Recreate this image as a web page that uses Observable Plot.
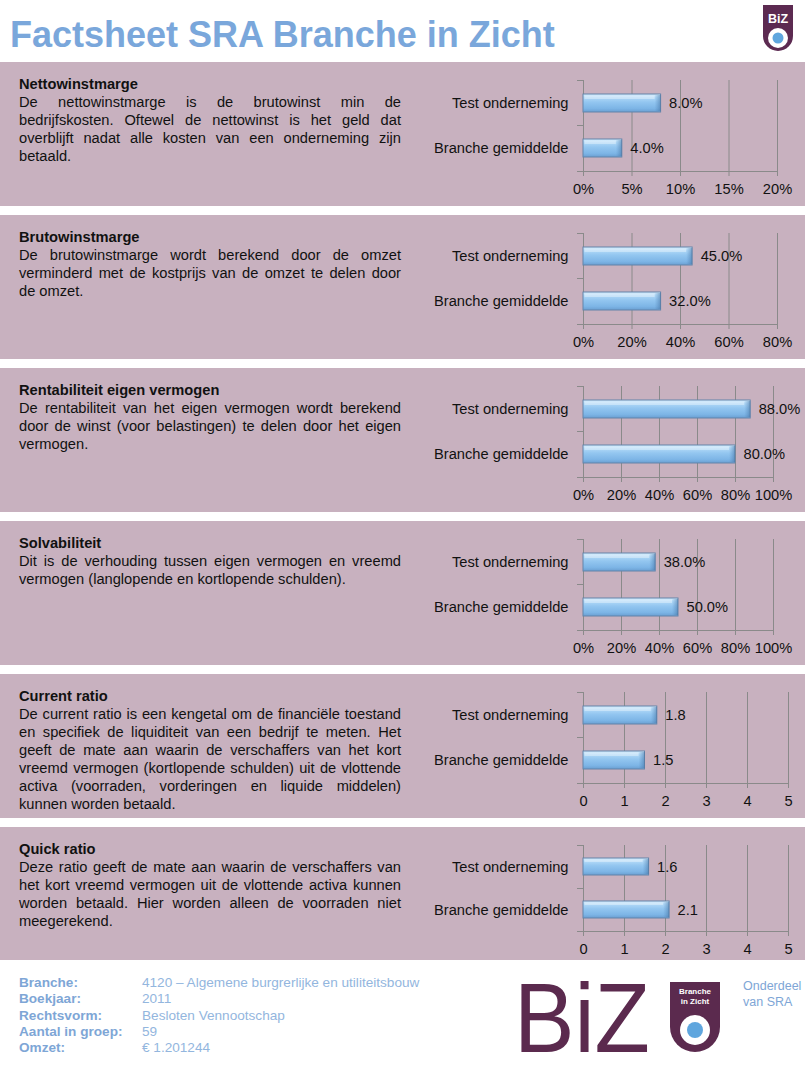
<!DOCTYPE html>
<html><head><meta charset="utf-8">
<script src="https://cdn.jsdelivr.net/npm/d3@7"></script>
<script src="https://cdn.jsdelivr.net/npm/@observablehq/plot@0.6"></script>
<style>
body{margin:0;background:#fff;font-family:"Liberation Sans",Arial,sans-serif;}
#page{position:relative;width:805px;height:1079px;overflow:hidden;background:#fff;}
.title{position:absolute;left:10px;top:14px;font-size:36px;font-weight:bold;color:#7aa7db;white-space:nowrap;line-height:42px;}
.panel{position:absolute;left:0;width:805px;background:#c8b1bf;}
.txt{position:absolute;left:19px;top:13px;width:382px;font-size:14.67px;line-height:18px;color:#111;text-align:justify;}
.txt b{display:block;text-align:left;}
.chart{position:absolute;left:420px;top:0;}
.foot{position:absolute;left:19px;top:975px;font-size:13.6px;line-height:16.3px;}
.foot .l{position:absolute;left:0;font-weight:bold;color:#7ea6d6;white-space:nowrap;}
.foot .v{position:absolute;left:123px;color:#93b6de;white-space:nowrap;letter-spacing:0px;}
.sra{position:absolute;left:743px;top:978px;font-size:12.5px;line-height:16.3px;color:#7ea6d6;white-space:nowrap;}
</style></head>
<body><div id="page"></div>
<script>
// ---------- data ----------
const categories = ["Test onderneming", "Branche gemiddelde"];
const panelTitles = ["Nettowinstmarge", "Brutowinstmarge", "Rentabiliteit eigen vermogen", "Solvabiliteit", "Current ratio", "Quick ratio"];
const panelTexts = [
  "De nettowinstmarge is de brutowinst min de bedrijfskosten. Oftewel de nettowinst is het geld dat overblijft nadat alle kosten van een onderneming zijn betaald.",
  "De brutowinstmarge wordt berekend door de omzet verminderd met de kostprijs van de omzet te delen door de omzet.",
  "De rentabiliteit van het eigen vermogen wordt berekend door de winst (voor belastingen) te delen door het eigen vermogen.",
  "Dit is de verhouding tussen eigen vermogen en vreemd vermogen (langlopende en kortlopende schulden).",
  "De current ratio is een kengetal om de financiële toestand en specifiek de liquiditeit van een bedrijf te meten. Het geeft de mate aan waarin de verschaffers van het kort vreemd vermogen (kortlopende schulden) uit de vlottende activa (voorraden, vorderingen en liquide middelen) kunnen worden betaald.",
  "Deze ratio geeft de mate aan waarin de verschaffers van het kort vreemd vermogen uit de vlottende activa kunnen worden betaald. Hier worden alleen de voorraden niet meegerekend."
];
const nettowinstmarge = [8.0, 4.0];
const brutowinstmarge = [45.0, 32.0];
const rentabiliteit = [88.0, 80.0];
const solvabiliteit = [38.0, 50.0];
const currentRatio = [1.8, 1.5];
const quickRatio = [1.6, 2.1];
const ticks20 = [0, 5, 10, 15, 20];
const ticks80 = [0, 20, 40, 60, 80];
const ticks100 = [0, 20, 40, 60, 80, 100];
const ticksRatio = [0, 1, 2, 3, 4, 5];
const footerLabels = ["Branche:", "Boekjaar:", "Rechtsvorm:", "Aantal in groep:", "Omzet:"];
const footerValues = ["4120 – Algemene burgrerlijke en utiliteitsbouw", "2011", "Besloten Vennootschap", "59", "€ 1.201244"];

// ---------- layout ----------
const panelTops = [62, 215, 368, 521, 674, 827];
const panelHeights = [144, 144, 144, 144, 144, 133];
const series = [nettowinstmarge, brutowinstmarge, rentabiliteit, solvabiliteit, currentRatio, quickRatio];
const tickSets = [ticks20, ticks80, ticks100, ticks100, ticksRatio, ticksRatio];
const isPct = [true, true, true, true, false, false];
const marginRights = [28, 28, 32, 32, 17, 17];
const marginBottoms = [35, 35, 35, 35, 35, 29];

const ns = "http://www.w3.org/2000/svg";
const page = document.getElementById("page");

const title = document.createElement("div");
title.className = "title";
title.textContent = "Factsheet SRA Branche in Zicht";
page.appendChild(title);

// small logo top right
page.insertAdjacentHTML("beforeend", `
<svg style="position:absolute;left:760px;top:3px" width="36" height="52" viewBox="0 0 36 52">
  <path d="M3,2 H33 V33 A15,15 0 0 1 3,33 Z" fill="#5c2a51"/>
  <text x="18" y="20" text-anchor="middle" font-family="Liberation Sans,Arial" font-weight="bold" font-size="12.5" fill="#fff">BiZ</text>
  <circle cx="18" cy="35" r="10" fill="#fff"/>
  <circle cx="18" cy="35" r="5.5" fill="#5fa6de"/>
</svg>`);

function gradDefs(id) {
  return () => {
    const defs = document.createElementNS(ns, "defs");
    defs.innerHTML = `<linearGradient id="${id}" x1="0" y1="0" x2="0" y2="1">
      <stop offset="0" stop-color="#d8eefd"/>
      <stop offset="0.18" stop-color="#b2d9f7"/>
      <stop offset="0.45" stop-color="#93c6f0"/>
      <stop offset="0.8" stop-color="#7db5e6"/>
      <stop offset="1" stop-color="#6a9fd2"/>
    </linearGradient>
    <linearGradient id="${id}r" x1="0" y1="0" x2="1" y2="0">
      <stop offset="0" stop-color="#4d7fb3" stop-opacity="0"/>
      <stop offset="1" stop-color="#3f6f9f" stop-opacity="0.55"/>
    </linearGradient>`;
    return defs;
  };
}

// axis lines and the tick marks between the categories
function frameLines(index, scales, values, dims) {
  const g = document.createElementNS(ns, "g");
  const x0 = dims.marginLeft, x1 = dims.width - dims.marginRight;
  const y0 = dims.marginTop, y1 = dims.height - dims.marginBottom;
  const ym = (y0 + y1) / 2;
  const lines = [[x0, y0, x0, y1], [x0, y1, x1, y1], [x0 - 6, y0, x0, y0], [x0 - 6, ym, x0, ym], [x0 - 6, y1, x0, y1]];
  for (const [a, b, c, d] of lines) {
    const l = document.createElementNS(ns, "line");
    l.setAttribute("x1", a); l.setAttribute("y1", b); l.setAttribute("x2", c); l.setAttribute("y2", d);
    l.setAttribute("stroke", "#8a8a8a"); l.setAttribute("stroke-width", 1);
    l.setAttribute("shape-rendering", "crispEdges");
    g.appendChild(l);
  }
  return g;
}

panelTops.forEach((top, i) => {
  const panel = document.createElement("div");
  panel.className = "panel";
  panel.style.top = top + "px";
  panel.style.height = panelHeights[i] + "px";
  const txt = document.createElement("div");
  txt.className = "txt";
  const b = document.createElement("b");
  b.textContent = panelTitles[i];
  txt.appendChild(b);
  txt.appendChild(document.createTextNode(panelTexts[i]));
  panel.appendChild(txt);

  const data = categories.map((c, k) => ({cat: c, value: series[i][k]}));
  const ticks = tickSets[i];
  const fmtTick = isPct[i] ? (d => d + "%") : (d => String(d));
  const fmtVal = isPct[i] ? (d => d.toFixed(1) + "%") : (d => d.toFixed(1));
  const gid = "barGrad" + i;

  const chart = Plot.plot({
    width: 385,
    height: panelHeights[i],
    marginLeft: 163,
    marginRight: marginRights[i],
    marginTop: 18,
    marginBottom: marginBottoms[i],
    style: {fontFamily: "Liberation Sans, Arial, sans-serif", fontSize: "14.67px", background: "transparent", color: "#111", overflow: "visible"},
    x: {domain: [0, ticks[ticks.length - 1]], label: null},
    y: {domain: categories, paddingInner: 0.6, paddingOuter: 0.3, label: null},
    marks: [
      gradDefs(gid),
      Plot.gridX(ticks, {stroke: "#8a8a8a", strokeOpacity: 1}),
      frameLines,
      Plot.axisX(ticks, {anchor: "bottom", label: null, tickSize: 5, tickPadding: 7, tickFormat: fmtTick, stroke: "#8a8a8a", fill: "#111", fontSize: 14.67}),
      Plot.axisY({anchor: "left", label: null, tickSize: 0, tickPadding: 15, fill: "#111", fontSize: 14.67}),
      Plot.barX(data, {x: "value", y: "cat", fill: `url(#${gid})`, stroke: "#6384aa", strokeWidth: 1}),
      Plot.barX(data, {x1: "value", x2: "value", y: "cat", insetLeft: -6, insetTop: 1, insetBottom: 1, fill: `url(#${gid}r)`}),
      Plot.barX(data, {x: "value", y: "cat", insetTop: 1.5, insetBottom: 13, insetLeft: 1.5, insetRight: 6, fill: "#ffffff", fillOpacity: 0.35}),
      Plot.text(data, {x: "value", y: "cat", text: d => fmtVal(d.value), textAnchor: "start", dx: 8, fill: "#111", fontSize: 14.67})
    ]
  });
  chart.classList.add("chart");
  chart.style.position = "absolute";
  chart.style.left = "420px";
  chart.style.top = "0px";
  panel.appendChild(chart);
  page.appendChild(panel);
});

// footer
const foot = document.createElement("div");
foot.className = "foot";
footerLabels.forEach((l, k) => {
  const a = document.createElement("div");
  a.className = "l"; a.style.top = (k * 16.3) + "px"; a.textContent = l;
  const v = document.createElement("div");
  v.className = "v"; v.style.top = (k * 16.3) + "px"; v.textContent = footerValues[k];
  foot.appendChild(a); foot.appendChild(v);
});
page.appendChild(foot);

page.insertAdjacentHTML("beforeend", `
<svg style="position:absolute;left:505px;top:955px;overflow:visible" width="230" height="122" viewBox="0 0 230 122">
  <text x="9" y="97" font-family="Liberation Sans,Arial" font-size="98" fill="#5b2a4e" textLength="136" lengthAdjust="spacingAndGlyphs">BiZ</text>
  <path d="M165,27 H215 V72 A25,25 0 0 1 165,72 Z" fill="#5b2a4e"/>
  <text x="190" y="39" text-anchor="middle" font-family="Liberation Sans,Arial" font-weight="bold" font-size="8" fill="#fff">Branche</text>
  <text x="190" y="49" text-anchor="middle" font-family="Liberation Sans,Arial" font-weight="bold" font-size="8" fill="#fff">in Zicht</text>
  <circle cx="190" cy="75" r="15" fill="#fff"/>
  <circle cx="190" cy="75" r="8" fill="#5fa6de"/>
</svg>
<div class="sra">Onderdeel<br>van SRA</div>`);
</script>
</body></html>
